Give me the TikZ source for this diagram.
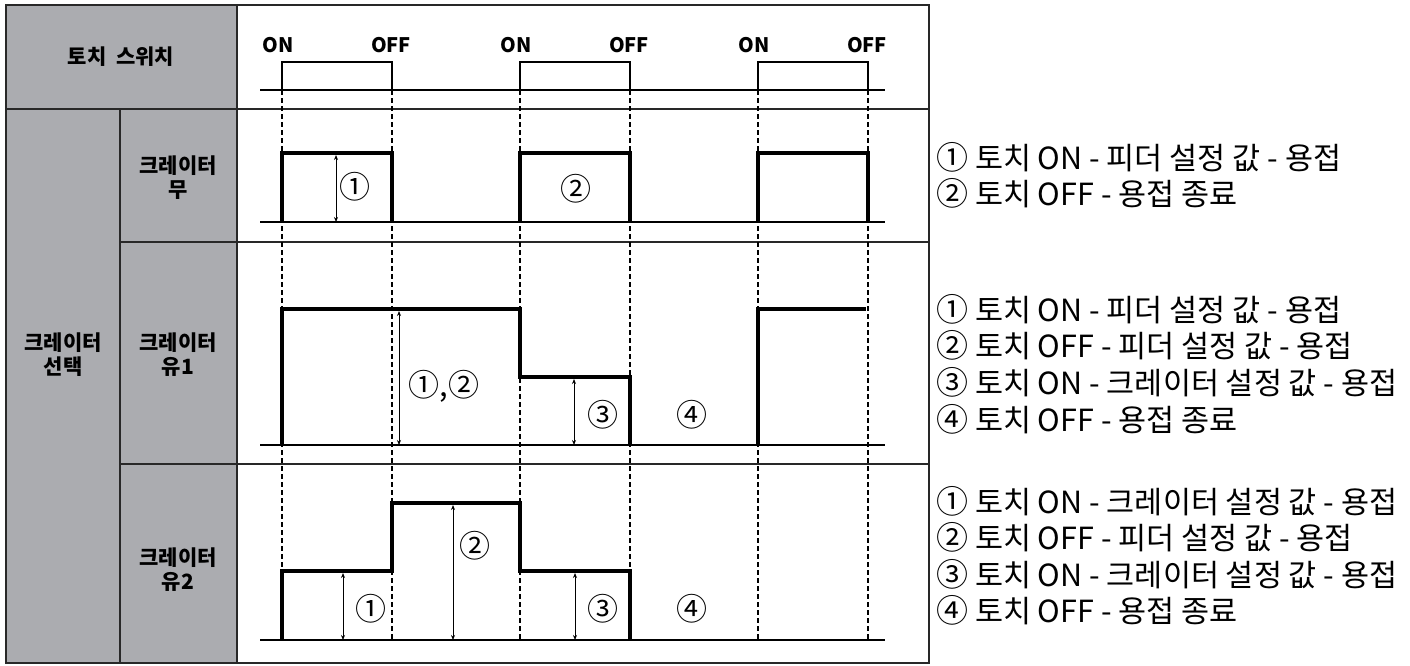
\documentclass[tikz,border=0pt]{standalone}
\usepackage{fontspec}
\setmainfont{Noto Sans CJK KR}
\usetikzlibrary{arrows.meta}
\definecolor{cellgray}{RGB}{171,172,176}
\definecolor{rulec}{RGB}{40,40,40}
\newcommand\cnum[1]{\raisebox{-0.5pt}{\fontsize{32}{30}\selectfont #1}}
\begin{document}
\begin{tikzpicture}[x=1pt,y=-1pt,
  tbl/.style={draw=rulec, line width=1.6pt},
  gridline/.style={draw=rulec, line width=1.6pt},
  base/.style={line width=1.3pt},
  sig/.style={line width=3.6pt, line join=miter, line cap=butt},
  guide/.style={line width=1.3pt, dash pattern=on 4.5pt off 3.5pt},
  dim/.style={line width=1pt, {Stealth[length=5pt,width=4pt]}-{Stealth[length=5pt,width=4pt]}},
  hdr/.style={font=\bfseries\fontsize{21}{24}\selectfont, align=center, inner sep=0pt},
  onoff/.style={font=\bfseries\fontsize{20}{22}\selectfont, inner sep=0pt},
  num/.style={font=\fontsize{31}{32}\selectfont, inner sep=0pt},
  desc/.style={font=\fontsize{30.5}{32}\selectfont, anchor=base west, inner sep=0pt}
]
\useasboundingbox (0,0) rectangle (1410,665);
% gray cells
\fill[cellgray] (6,5) rectangle (237,663);
% table lines
\draw[tbl] (6,5) rectangle (929,663);
\draw[gridline] (6,109) -- (929,109);
\draw[gridline] (237,5) -- (237,663);
\draw[gridline] (120,109) -- (120,663);
\draw[gridline] (120,242) -- (929,242);
\draw[gridline] (120,464) -- (929,464);
% header labels
\node[hdr] (torch) at (121,57) {토치\hspace{0.45em}스위치};
\node[hdr] (sel) at (63,355) {크레이터\\선택};
\node[hdr] (r1) at (178,178) {크레이터\\무};
\node[hdr] (r2) at (178,355) {크레이터\\유1};
\node[hdr] (r3) at (178,570) {크레이터\\유2};
% ON/OFF labels
\foreach \a/\b [count=\i] in {282/392,520/630,758/868}{
  \node[onoff] (on\i) at (\a-4,45) {ON};
  \node[onoff] (off\i) at (\b-1,45) {OFF};
}
% dashed guides
\foreach \x in {282,392,520,630,758,868}{
  \draw[guide] (\x,90) -- (\x,640);
}
% torch switch signal
\draw[base] (260,90) -- (885,90);
\foreach \a/\b in {282/392,520/630,758/868}{
  \draw[base] (\a,90) |- (\b,62) -- (\b,90);
}
% row 1: crater none
\draw[base] (260,222) -- (885,222);
\foreach \a/\b in {282/392,520/630,758/868}{
  \draw[sig] (\a,222) |- (\b,153) -- (\b,222);
}
\draw[dim] (336,155) -- (336,222);
\node[num] (n11) at (355,187) {①};
\node[num] (n12) at (576,189) {②};
% row 2: crater yes 1
\draw[base] (260,445) -- (885,445);
\draw[sig] (282,445) |- (520,309) |- (630,377) -- (630,445);
\draw[sig] (758,445) |- (866,309);
\draw[dim] (399,311) -- (399,445);
\draw[dim] (574,379) -- (574,445);
\node[num] (n21) at (444,386) {①,②};
\node[num] (n23) at (603,415) {③};
\node[num] (n24) at (692,415) {④};
% row 3: crater yes 2
\draw[base] (260,640) -- (885,640);
\draw[sig] (282,640) |- (392,571) |- (520,503) |- (630,571) -- (630,640);
\draw[dim] (343,573) -- (343,640);
\draw[dim] (453,505) -- (453,640);
\draw[dim] (575,573) -- (575,640);
\node[num] (n31) at (371,609) {①};
\node[num] (n32) at (475,546) {②};
\node[num] (n33) at (603,609) {③};
\node[num] (n34) at (692,609) {④};
% descriptions
\node[desc] (d11) at (936,169) {\cnum{①} 토치 ON - 피더 설정 값 - 용접};
\node[desc] (d12) at (936,205) {\cnum{②} 토치 OFF - 용접 종료};
\node[desc] (d21) at (936,321) {\cnum{①} 토치 ON - 피더 설정 값 - 용접};
\node[desc] (d22) at (936,357) {\cnum{②} 토치 OFF - 피더 설정 값 - 용접};
\node[desc] (d23) at (936,394) {\cnum{③} 토치 ON - 크레이터 설정 값 - 용접};
\node[desc] (d24) at (936,431) {\cnum{④} 토치 OFF - 용접 종료};
\node[desc] (d31) at (936,513) {\cnum{①} 토치 ON - 크레이터 설정 값 - 용접};
\node[desc] (d32) at (936,549) {\cnum{②} 토치 OFF - 피더 설정 값 - 용접};
\node[desc] (d33) at (936,586) {\cnum{③} 토치 ON - 크레이터 설정 값 - 용접};
\node[desc] (d34) at (936,622) {\cnum{④} 토치 OFF - 용접 종료};
\end{tikzpicture}
\end{document}
